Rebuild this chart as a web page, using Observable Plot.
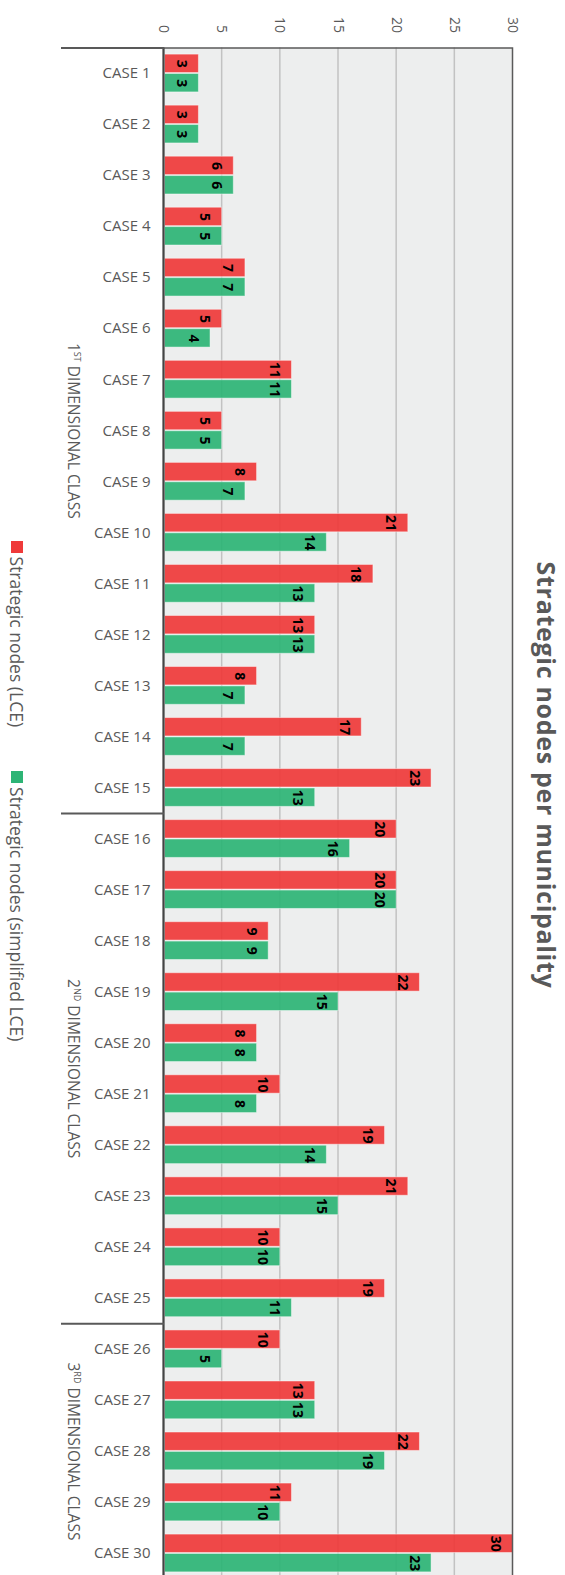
<!DOCTYPE html>
<html>
<head>
<meta charset="utf-8">
<script src="https://cdn.jsdelivr.net/npm/d3@7"></script>
<script src="https://cdn.jsdelivr.net/npm/@observablehq/plot@0.6"></script>
<style>
  html, body { margin: 0; padding: 0; background: #fff; }
  body { width: 565px; height: 1575px; overflow: hidden; position: relative; }
  #fig {
    position: absolute; left: 0; top: 0;
    width: 1575px; height: 565px; overflow: hidden;
    transform-origin: 0 0;
    transform: translate(565px, 0) rotate(90deg);
    font-family: 'Open Sans', sans-serif; color: #595959;
  }
  #title {
    position: absolute; top: 0; left: 375px; width: 800px; height: 36px;
    line-height: 36px; text-align: center;
    font-size: 25px; font-weight: 700; letter-spacing: 0.7px; color: #595959;
  }
  #chart { position: absolute; top: 36px; left: 0; width: 1590px; height: 494px; }
  #chart svg { max-width: none !important; }
  #legend {
    position: absolute; top: 530px; left: 0; width: 1582px; height: 35px;
    display: flex; justify-content: center; align-items: center; gap: 44px;
    font-size: 17.5px; color: #595959;
  }
  #legend .item { display: flex; align-items: center; }
  #legend .sw { width: 12px; height: 12px; margin-right: 4px; }
</style>
</head>
<body>
<div id="fig">
  <div id="title"></div>
  <div id="chart"></div>
  <div id="legend"></div>
</div>
<script>
// ---- data ----
const cases = ["CASE 1","CASE 2","CASE 3","CASE 4","CASE 5","CASE 6","CASE 7","CASE 8","CASE 9","CASE 10",
  "CASE 11","CASE 12","CASE 13","CASE 14","CASE 15","CASE 16","CASE 17","CASE 18","CASE 19","CASE 20",
  "CASE 21","CASE 22","CASE 23","CASE 24","CASE 25","CASE 26","CASE 27","CASE 28","CASE 29","CASE 30"];
const lce =        [3,3,6,5,7,5,11,5,8,21,18,13,8,17,23,20,20,9,22,8,10,19,21,10,19,10,13,22,11,30];
const simplified = [3,3,6,5,7,4,11,5,7,14,13,13,7,7,13,16,20,9,15,8,8,14,15,10,11,5,13,19,10,23];
const seriesNames = ["Strategic nodes (LCE)", "Strategic nodes (simplified LCE)"];
const seriesColors = ["#ef3a3a", "#2db475"];
const groupLabels = ["1ST DIMENSIONAL CLASS", "2ND DIMENSIONAL CLASS", "3RD DIMENSIONAL CLASS"];
const groupStart = [1, 16, 26];
const groupEnd = [15, 25, 30];
const valueTicks = [0, 5, 10, 15, 20, 25, 30];
const titleText = "Strategic nodes per municipality";

// ---- tables ----
const rows = cases.map((c, k) => ({i: k + 1, name: c, lce: lce[k], simp: simplified[k]}));
const groups = groupLabels.map((g, k) => ({label: g, start: groupStart[k], end: groupEnd[k]}));
const boundaries = [groupStart[0] - 0.5, ...groupEnd.map(e => e + 0.5)];
const half = 0.38;

const plot = Plot.plot({
  width: 1590, height: 494,
  marginLeft: 47.5, marginRight: 11.5, marginTop: 16, marginBottom: 129,
  x: {domain: [0.5, cases.length + 0.5]},
  y: {domain: [0, 30]},
  style: {fontFamily: "'Open Sans', sans-serif", color: "#595959", background: "transparent", overflow: "visible", maxWidth: "none"},
  marks: [
    Plot.frame({fill: "#edeeee"}),
    Plot.ruleY(valueTicks.filter(v => v > 0 && v < 30), {stroke: "#c2c2c2", strokeWidth: 1.5}),
    Plot.rect(rows, {x1: d => d.i - half, x2: d => d.i, y1: 0, y2: "lce", fill: seriesColors[0], fillOpacity: 0.92,
      stroke: "white", strokeOpacity: 0.45, strokeWidth: 1, inset: 0.5}),
    Plot.rect(rows, {x1: d => d.i, x2: d => d.i + half, y1: 0, y2: "simp", fill: seriesColors[1], fillOpacity: 0.92,
      stroke: "white", strokeOpacity: 0.45, strokeWidth: 1, inset: 0.5}),
    Plot.text(rows, {x: d => d.i - half / 2, y: "lce", text: d => String(d.lce), dy: 17,
      fontWeight: "bold", fontSize: 14, fill: "black"}),
    Plot.text(rows, {x: d => d.i + half / 2, y: "simp", text: d => String(d.simp), dy: 17,
      fontWeight: "bold", fontSize: 14, fill: "black"}),
    Plot.frame({stroke: "#5a5a5a", strokeWidth: 1.5}),
    Plot.ruleY([0], {stroke: "#444", strokeWidth: 2}),
    Plot.ruleX(boundaries, {insetTop: 349, insetBottom: -103, stroke: "#595959", strokeWidth: 2}),
    Plot.axisY({ticks: valueTicks, tickSize: 0, tickPadding: 15, fontSize: 14, label: null}),
    Plot.axisX({ticks: rows.map(d => d.i), tickFormat: i => cases[i - 1], tickRotate: -90,
      tickSize: 0, tickPadding: 13, fontSize: 15, label: null}),
    Plot.text(groups, {x: d => (d.start + d.end) / 2, frameAnchor: "bottom", dy: 96, text: "label", fontSize: 15.5, fill: "#595959"})
  ]
});

// superscript ordinal suffixes in the group labels
d3.select(plot).selectAll("text").each(function() {
  const t = d3.select(this);
  if (t.selectAll("tspan").size() > 0) return;
  const s = t.text();
  const m = s.match(/^(\d+)(ST|ND|RD|TH)\s+(.*)$/);
  if (!m) return;
  t.text(null);
  t.append("tspan").text(m[1]);
  t.append("tspan").attr("font-size", "9px").attr("dy", "-6").text(m[2]);
  t.append("tspan").attr("dy", "6").text("\u00a0" + m[3]);
});

document.getElementById("chart").appendChild(plot);
document.getElementById("title").textContent = titleText;

const legend = d3.select("#legend");
seriesNames.forEach((n, k) => {
  const it = legend.append("div").attr("class", "item");
  it.append("div").attr("class", "sw").style("background", seriesColors[k]);
  it.append("span").text(n);
});
</script>
</body>
</html>
